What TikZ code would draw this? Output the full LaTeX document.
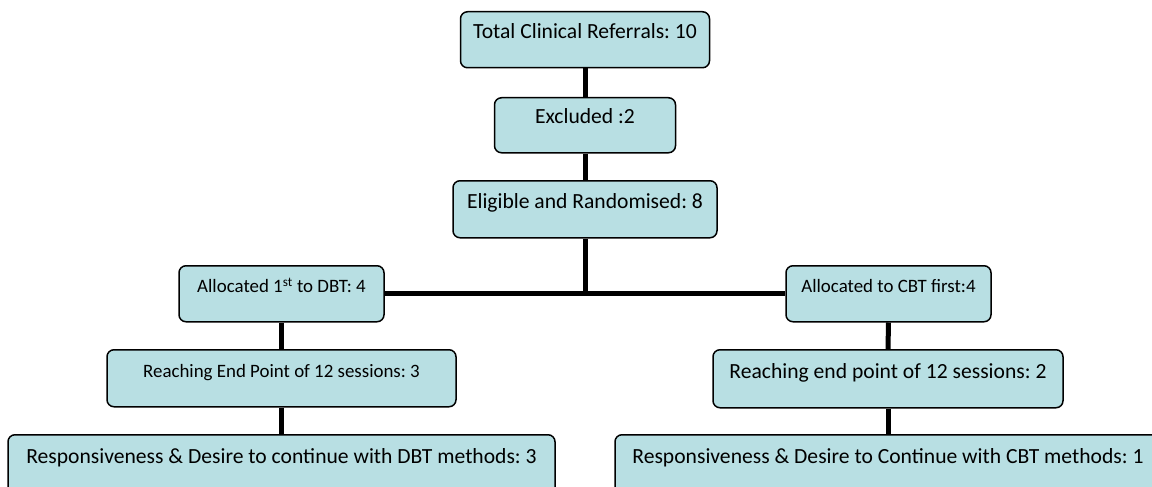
\documentclass[tikz,border=0pt]{standalone}
\usepackage{fontspec}
\setmainfont{Carlito}
\frenchspacing
\definecolor{boxfill}{RGB}{184,223,227}
\tikzset{
  box/.style={draw=black, line width=1.5pt, fill=boxfill, rounded corners=7pt,
    inner xsep=0pt, inner ysep=0pt, text height=27pt, text depth=29pt, anchor=north},
  big/.style={font=\fontsize{21.6}{25}\selectfont},
  small/.style={font=\fontsize{18.9}{22}\selectfont},
  link/.style={line width=5pt, black}
}
\begin{document}
\begin{tikzpicture}[x=1pt,y=-1pt]
\useasboundingbox (0,0) rectangle (1152,487);
\clip (0,0) rectangle (1152,487);
\node[box, big, minimum width=249pt] (tot) at (585,11) {Total Clinical Referrals: 10};
\node[box, big, minimum width=181pt, text height=26pt] (exc) at (585,97) {Excluded :2};
\node[box, big, minimum width=264pt, text height=28pt] (elig) at (585,180) {Eligible and Randomised: 8};
\node[box, small, minimum width=205pt] (dbt) at (281.5,265) {Allocated 1\textsuperscript{st} to DBT: 4};
\node[box, small, minimum width=205pt] (cbt) at (888.5,265) {Allocated to CBT first:4};
\node[box, small, minimum width=349pt, text height=28pt] (rdbt) at (281.5,349) {Reaching End Point of 12 sessions: 3};
\node[box, big, minimum width=350pt, text height=29pt] (rcbt) at (888,349) {Reaching end point of 12 sessions: 2};
\node[box, big, minimum width=547pt, text height=29pt, text depth=40pt] (bdbt) at (281.5,434) {Responsiveness \& Desire to continue with DBT methods: 3};
\node[box, big, minimum width=546pt, text height=29pt, text depth=40pt] (bcbt) at (888,434) {Responsiveness \& Desire to Continue with CBT methods: 1};
\draw[link] (tot.south) -- (tot.south |- exc.north);
\draw[link] (exc.south) -- (exc.south |- elig.north);
\draw[link] (elig.south) -- (elig.south |- dbt.east);
\draw[link] (dbt.east) -- (cbt.west);
\draw[link] (dbt.south) -- (rdbt.north);
\draw[link] (rdbt.south) -- (bdbt.north);
\draw[link] (cbt.south) -- (rcbt.north);
\draw[link] (rcbt.south) -- (bcbt.north);
\end{tikzpicture}
\end{document}
